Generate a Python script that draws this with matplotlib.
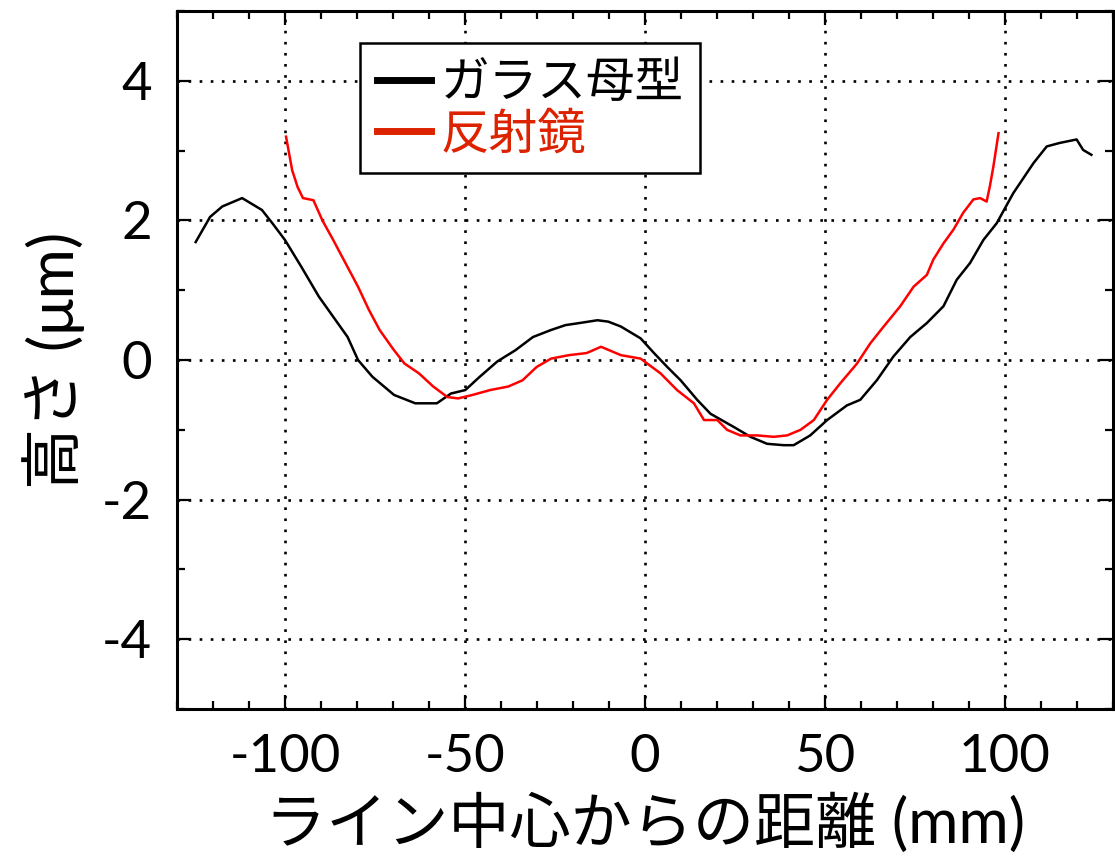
import matplotlib
matplotlib.use('Agg')
import matplotlib.pyplot as plt
from matplotlib.ticker import MultipleLocator
import numpy as np

plt.rcParams['font.family'] = ['Lato', 'Noto Sans CJK JP', 'DejaVu Sans']
plt.rcParams['axes.unicode_minus'] = False

# glass mold (black)
mold_x = [-124.8, -120.8, -117.4, -111.9, -106.4, -103.5, -100.0, -95.5, -90.6, -86.6,
          -82.6, -79.7, -75.7, -69.7, -63.8, -57.8, -53.9, -49.9, -45.9, -41.0,
          -36.0, -31.1, -26.1, -22.1, -18.2, -13.2, -10.2, -6.7, -1.2, 2.5,
          6.2, 9.9, 14.5, 18.2, 24.7, 29.3, 33.9, 38.5, 41.3, 45.9,
          50.6, 56.1, 59.8, 64.4, 69.0, 73.7, 78.3, 82.9, 86.6, 90.3,
          94.0, 97.7, 102.3, 107.9, 111.6, 115.2, 119.9, 121.7, 124.0]
mold_y = [1.69, 2.05, 2.20, 2.32, 2.15, 1.96, 1.72, 1.34, 0.91, 0.62,
          0.33, 0.00, -0.24, -0.50, -0.62, -0.62, -0.48, -0.43, -0.24, -0.02,
          0.14, 0.33, 0.43, 0.50, 0.53, 0.57, 0.55, 0.48, 0.31, 0.10,
          -0.10, -0.29, -0.57, -0.77, -0.96, -1.10, -1.20, -1.22, -1.22, -1.08,
          -0.86, -0.65, -0.57, -0.29, 0.05, 0.33, 0.53, 0.77, 1.15, 1.39,
          1.72, 1.96, 2.39, 2.82, 3.06, 3.11, 3.16, 3.01, 2.94]

# mirror (red)
mirror_x = [-99.7, -98.0, -96.5, -95.0, -92.1, -89.6, -86.6, -83.1, -79.7, -76.7,
            -73.7, -69.7, -66.8, -62.8, -58.8, -54.9, -51.9, -47.9, -43.0, -38.0,
            -34.0, -30.1, -26.1, -21.1, -16.2, -12.2, -6.7, -1.2, 4.3, 8.9,
            13.6, 16.4, 20.1, 22.8, 26.5, 31.1, 35.8, 39.5, 43.2, 46.9,
            50.6, 54.3, 58.9, 62.6, 66.3, 70.9, 74.6, 78.3, 80.1, 82.9,
            85.7, 88.4, 91.2, 93.1, 94.9, 95.8, 96.8, 98.2]
mirror_y = [3.20, 2.72, 2.48, 2.32, 2.29, 2.00, 1.72, 1.38, 1.05, 0.72,
            0.43, 0.14, -0.05, -0.19, -0.38, -0.53, -0.55, -0.50, -0.43, -0.38,
            -0.29, -0.10, 0.02, 0.07, 0.10, 0.19, 0.07, 0.02, -0.19, -0.43,
            -0.62, -0.86, -0.86, -1.00, -1.08, -1.08, -1.10, -1.08, -1.00, -0.86,
            -0.57, -0.33, -0.05, 0.24, 0.48, 0.77, 1.05, 1.22, 1.44, 1.67,
            1.87, 2.11, 2.30, 2.32, 2.27, 2.49, 2.78, 3.25]

x_ticks = [-100, -50, 0, 50, 100]
y_ticks = [-4, -2, 0, 2, 4]

fig = plt.figure(figsize=(11.15, 8.61), dpi=100)
ax = fig.add_axes([0.1587, 0.1765, 0.8395, 0.8107])

ax.plot(mold_x, mold_y, color='black', lw=1.8, label='ガラス母型')
ax.plot(mirror_x, mirror_y, color='red', lw=1.8, label='反射鏡')

ax.set_xlim(-130, 130)
ax.set_ylim(-5, 5)
ax.set_xticks(x_ticks)
ax.set_yticks(y_ticks)
ax.xaxis.set_minor_locator(MultipleLocator(10))
ax.yaxis.set_minor_locator(MultipleLocator(1))
ax.grid(True, which='major', color='black', linestyle=(0, (1, 3.2)), lw=1.9)

ax.tick_params(which='both', direction='in', top=True, right=True, width=1.6)
ax.tick_params(which='major', length=10, labelsize=38, pad=18)
ax.tick_params(which='minor', length=6)
for s in ax.spines.values():
    s.set_linewidth(2.2)

ax.set_xlabel('ライン中心からの距離 (mm)', fontsize=44, labelpad=9)
ax.set_ylabel('高さ (μm)', fontsize=44, labelpad=12)

leg = ax.legend(loc='upper left', bbox_to_anchor=(0.3229, 0.950),
                bbox_transform=fig.transFigure, borderaxespad=0,
                fontsize=35, handlelength=1.1, handletextpad=0.2,
                borderpad=0.35, labelspacing=0.12, fancybox=False, framealpha=1)
leg.get_frame().set_edgecolor('black')
leg.get_frame().set_linewidth(1.8)
for line, text, c in zip(leg.get_lines(), leg.get_texts(), ['black', '#dd2200']):
    line.set_linewidth(5)
    line.set_color(c)
    text.set_color(c)

fig.savefig('out.png', dpi=100)
